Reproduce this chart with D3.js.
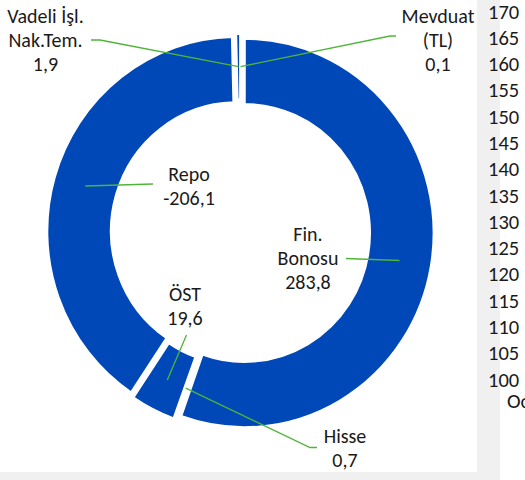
<!DOCTYPE html>
<html>
<head>
<meta charset="utf-8">
<script src="https://cdn.jsdelivr.net/npm/d3@7"></script>
<style>
  html, body { margin: 0; padding: 0; background: #ffffff; }
  svg { display: block; }
  text { font-family: Carlito, Lato, "Open Sans", sans-serif; fill: #1a1a1a; }
</style>
</head>
<body>
<svg id="chart" width="525" height="480"></svg>
<script>
// ---- data ----
const categories = ["Mevduat (TL)", "Fin. Bonosu", "Hisse", "ÖST", "Repo", "Vadeli İşl. Nak.Tem."];
const values = [0.1, 283.8, 0.7, 19.6, -206.1, 1.9];
const labelNames = [["Mevduat", "(TL)"], ["Fin.", "Bonosu"], ["Hisse"], ["ÖST"], ["Repo"], ["Vadeli İşl.", "Nak.Tem."]];
const axisTicks = [170, 165, 160, 155, 150, 145, 140, 135, 130, 125, 120, 115, 110, 105, 100];
const axisCategories = ["Oc"];

// ---- layout ----
const W = 525, H = 480;
const cx = 240.4, cy = 232.3, sy = 1.026;
const outerR = 189.5, innerR = 125.4, explode = 4;
const blue = "#0048B8", leaderColor = "#4fb43a", bg = "#f0f0f0";
const lineH = 24.3;
const labelLayout = [
  { x: 438, y: 22.5, pts: [[396, 36], [390, 36]] },
  { x: 308, y: 240.5, pts: [[346, 258.5]] },
  { x: 345, y: 443, pts: [[317, 447.5], [310, 447.5]] },
  { x: 185, y: 301, pts: [[186.5, 335]] },
  { x: 189, y: 181, pts: [[153, 184]] },
  { x: 45.5, y: 22.5, pts: [[91, 40], [100, 40]] }
];

const svg = d3.select("#chart");
const fmt = d3.formatLocale({ decimal: ",", thousands: ".", grouping: [3], currency: ["", "TL"], minus: "-" }).format(".1f");

// background strips
svg.append("rect").attr("x", 0).attr("y", 0).attr("width", W).attr("height", H).attr("fill", "#fff");
svg.append("rect").attr("x", 477).attr("y", 0).attr("width", 23).attr("height", H).attr("fill", bg);
svg.append("rect").attr("x", 0).attr("y", 472).attr("width", 500).attr("height", 8).attr("fill", bg);

// right-side axis fragment
const yAxis = d3.scaleLinear().domain([100, 170]).range([386.5, 18.5]);
svg.append("g").selectAll("text").data(axisTicks).join("text")
  .attr("x", 488).attr("y", d => yAxis(d))
  .style("font-size", "20.5px").text(d => d);
svg.append("g").selectAll("text").data(axisCategories).join("text")
  .attr("x", 507).attr("y", 408).style("font-size", "20.5px").text(d => d);

// donut
const data = categories.map((c, i) => ({ name: c, value: values[i], lines: labelNames[i], layout: labelLayout[i] }));
const pie = d3.pie().sort(null).value(d => Math.abs(d.value)).startAngle(0).endAngle(2 * Math.PI);
const arcs = pie(data);
const arc = d3.arc().innerRadius(innerR).outerRadius(outerR);

const g = svg.append("g").attr("transform", `translate(${cx},${cy}) scale(1,${sy})`);
arcs.forEach(a => {
  const mid = (a.startAngle + a.endAngle) / 2;
  a.dx = explode * Math.sin(mid);
  a.dy = -explode * Math.cos(mid);
});
g.selectAll("path").data(arcs).join("path")
  .attr("transform", a => `translate(${a.dx},${a.dy})`)
  .attr("d", arc)
  .attr("fill", blue)
  .attr("stroke", "#fff")
  .attr("stroke-width", 2.5)
  .attr("stroke-linejoin", "miter");

// leader lines
const line = d3.line();
arcs.forEach(a => {
  const c = arc.centroid(a);
  const p = [cx + c[0] + a.dx, cy + (c[1] + a.dy) * sy];
  const pts = a.data.layout.pts.concat([p]);
  svg.append("path").attr("d", line(pts))
    .attr("fill", "none").attr("stroke", leaderColor).attr("stroke-width", 1.3);
});

// labels
arcs.forEach(a => {
  const L = a.data.layout;
  const lines = a.data.lines.concat([fmt(a.data.value)]);
  const t = svg.append("text").attr("text-anchor", "middle").style("font-size", "20px");
  lines.forEach((s, i) => {
    t.append("tspan").attr("x", L.x).attr("y", L.y + i * lineH).text(s);
  });
});
</script>
</body>
</html>
